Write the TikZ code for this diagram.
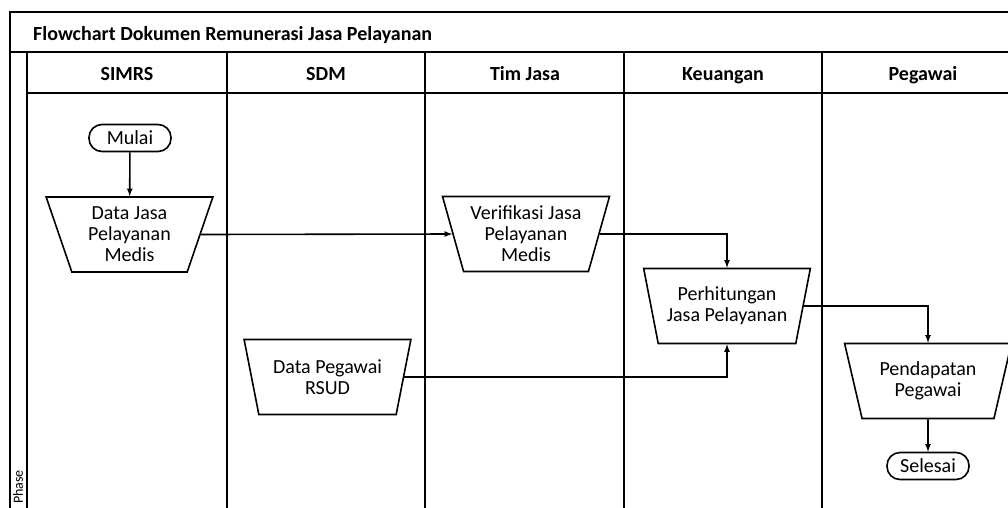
\documentclass[tikz,border=0pt]{standalone}
\usepackage{fontspec}
\setmainfont{Carlito}
\usetikzlibrary{shapes.geometric, positioning}

\begin{document}
\begin{tikzpicture}[
		x=1pt, y=-1pt,
		% Style des traits du tableau (couloirs)
		lane/.style={
			line width=1.3pt,
			black
		},
		% Style des documents (trapèzes)
		doc/.style={
			trapezium,
			shape border rotate=180,
			trapezium angle=71.5,
			trapezium stretches=true,
			draw,
			line width=1.6pt,
			minimum width=167pt,
			minimum height=75pt,
			inner sep=0pt,
			align=center,
			font=\fontsize{20}{21}\selectfont
		},
		% Style des bornes début / fin
		term/.style={
			draw,
			line width=1.6pt,
			rounded corners=13pt,
			minimum width=82pt,
			minimum height=27pt,
			inner sep=0pt,
			font=\fontsize{20}{21}\selectfont
		},
		% Style des flèches
		flow/.style={
			->,
			>=latex,
			line width=1.6pt
		},
		% Style des titres de couloir
		head/.style={
			anchor=base,
			inner sep=0pt,
			font=\fontsize{20}{24}\selectfont\bfseries
		}
		]
		\useasboundingbox (0,0) rectangle (1008,507);
		\clip (0,0) rectangle (1008,507);
		
		% --- CADRE ET COULOIRS ---
		\draw[lane] (10,520) -- (10,12) -- (1030,12);
		\draw[lane] (10,52) -- (1030,52);
		\draw[lane] (27,93) -- (1030,93);
		\draw[lane] (27,52) -- (27,520);
		\foreach \xl in {227,425,624,822}
		\draw[lane] (\xl,52) -- (\xl,520);
		
		% --- TITRES ---
		\node[head, anchor=base west] (title) at (33,40) {Flowchart Dokumen Remunerasi Jasa Pelayanan};
		\node[head] (hsimrs) at (127,80) {SIMRS};
		\node[head] (hsdm) at (326,80) {SDM};
		\node[head] (htim) at (525,80) {Tim Jasa};
		\node[head] (hkeu) at (723,80) {Keuangan};
		\node[head] (hpeg) at (923,80) {Pegawai};
		\node[rotate=90, inner sep=0pt, font=\fontsize{14}{16}\selectfont] (phase) at (18,487) {Phase};
		
		% --- BLOCS ---
		\node[term] (mulai) at (130,138) {Mulai};
		\node[doc] (djasa) at (129.5,234.5) {Data Jasa\\Pelayanan\\Medis};
		\node[doc] (verif) at (526,234) {Verifikasi Jasa\\Pelayanan\\Medis};
		\node[doc] (dpeg) at (327.5,377) {Data Pegawai\\RSUD};
		\node[doc] (hitung) at (727,306) {Perhitungan\\Jasa Pelayanan};
		\node[doc] (dapat) at (928,381) {Pendapatan\\Pegawai};
		\node[term] (selesai) at (928,466) {Selesai};
		
		% --- FLÈCHES ---
		\draw[flow] (mulai) -- (djasa);
		\draw[flow] (djasa.east) -- (verif.west);
		\draw[flow] (verif.east) -| (hitung.north);
		\draw[flow] (dpeg.east) -| (hitung.south);
		\draw[flow] (hitung.east) -| (dapat.north);
		\draw[flow] (dapat) -- (selesai);
		
	\end{tikzpicture}
\end{document}
